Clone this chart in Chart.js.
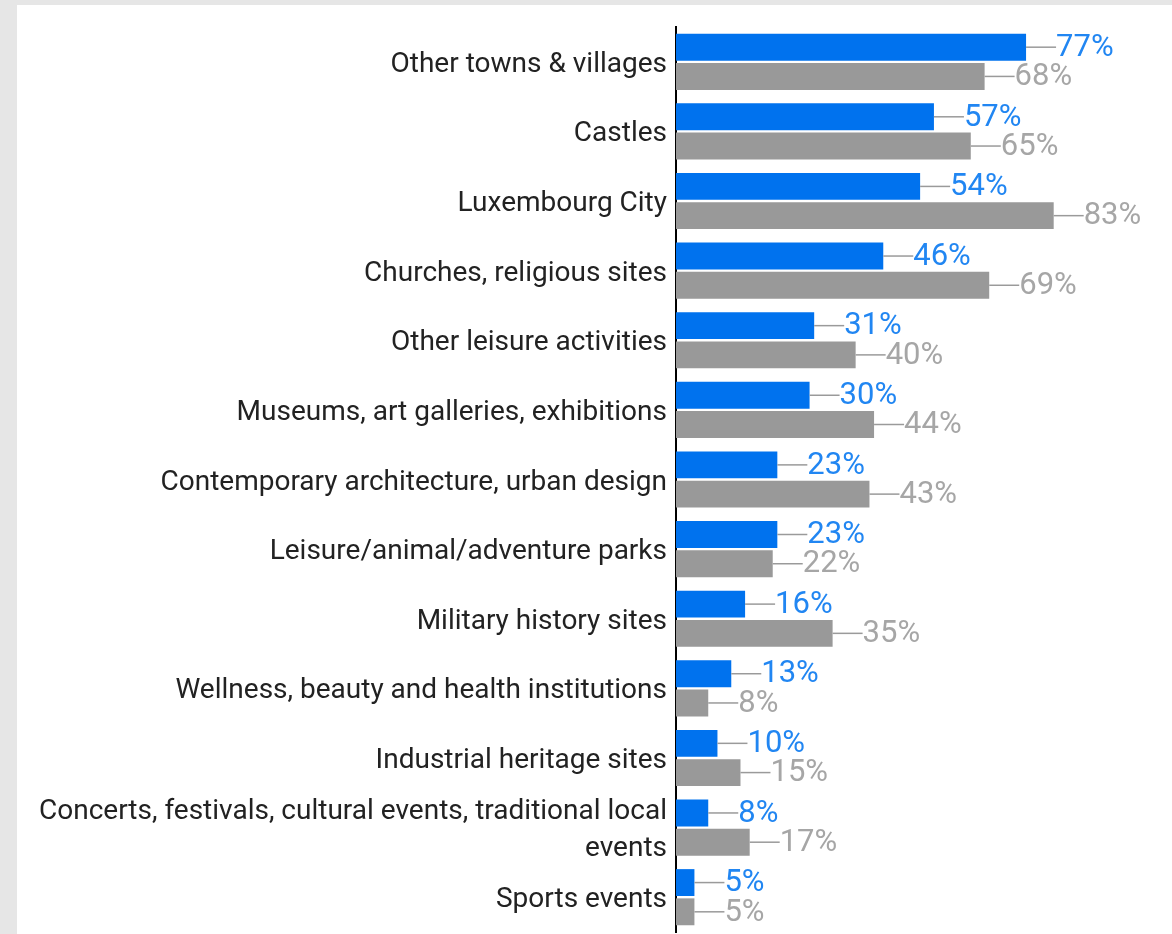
<!DOCTYPE html>
<html>
<head>
<meta charset="utf-8">
<script src="https://cdn.jsdelivr.net/npm/chart.js@4.4.1/dist/chart.umd.min.js"></script>
<style>
  html, body { margin: 0; padding: 0; background: #e6e6e6; width: 1172px; height: 934px; overflow: hidden; }
  #panel { position: absolute; left: 17px; top: 5px; right: 0; bottom: 0; background: #ffffff; }
  #wrap { position: absolute; left: 0; top: 0; width: 1172px; height: 934px; }
</style>
</head>
<body>
<div id="panel"></div>
<div id="wrap"><canvas id="chart" width="1172" height="934"></canvas></div>
<script>
// Places visited, share of respondents (%)
const categories = [
  'Other towns & villages',
  'Castles',
  'Luxembourg City',
  'Churches, religious sites',
  'Other leisure activities',
  'Museums, art galleries, exhibitions',
  'Contemporary architecture, urban design',
  'Leisure/animal/adventure parks',
  'Military history sites',
  'Wellness, beauty and health institutions',
  'Industrial heritage sites',
  ['Concerts, festivals, cultural events, traditional local', 'events'],
  'Sports events'
];
const seriesBlue = [77, 57, 54, 46, 31, 30, 23, 23, 16, 13, 10, 8, 5];
const seriesGray = [68, 65, 83, 69, 40, 44, 43, 22, 35, 8, 15, 17, 5];

const BLUE = '#0072ee';
const GRAY = '#999999';
const BLUE_TEXT = '#2186f2';
const GRAY_TEXT = '#a6a6a6';

// Leader line + value text at the end of every bar
const valueLabels = {
  id: 'valueLabels',
  afterDatasetsDraw(chart) {
    const ctx = chart.ctx;
    ctx.save();
    chart.data.datasets.forEach((ds, di) => {
      const meta = chart.getDatasetMeta(di);
      meta.data.forEach((bar, i) => {
        const x = bar.x, y = bar.y;
        ctx.strokeStyle = '#9a9a9a';
        ctx.lineWidth = 1.5;
        ctx.beginPath();
        ctx.moveTo(x, y);
        ctx.lineTo(x + 30, y);
        ctx.stroke();
        ctx.fillStyle = di === 0 ? BLUE_TEXT : GRAY_TEXT;
        ctx.font = '31px Roboto';
        ctx.textAlign = 'left';
        ctx.textBaseline = 'middle';
        ctx.fillText(ds.data[i] + '%', x + 30, y + 1);
      });
    });
    ctx.restore();
  }
};

new Chart(document.getElementById('chart'), {
  type: 'bar',
  data: {
    labels: categories,
    datasets: [
      { label: 'Series 1', data: seriesBlue, backgroundColor: BLUE },
      { label: 'Series 2', data: seriesGray, backgroundColor: GRAY }
    ]
  },
  options: {
    indexAxis: 'y',
    responsive: false,
    animation: false,
    devicePixelRatio: 1,
    categoryPercentage: 0.84,
    barPercentage: 0.92,
    layout: { padding: { top: 27, bottom: 2, right: 40, left: 0 } },
    plugins: { legend: { display: false }, tooltip: { enabled: false } },
    scales: {
      x: { display: false, min: 1, max: 100 },
      y: {
        grid: { display: false, drawTicks: false },
        border: { display: true, color: '#000000', width: 2 },
        ticks: {
          color: '#222222',
          font: { family: 'Roboto', size: 28, lineHeight: 1.32 },
          padding: 9,
          labelOffset: 3,
          autoSkip: false
        },
        afterFit(scale) {
          scale.width = 676;
          scale.paddingTop = 0;
          scale.paddingBottom = 0;
        }
      }
    }
  },
  plugins: [valueLabels]
});
</script>
</body>
</html>
